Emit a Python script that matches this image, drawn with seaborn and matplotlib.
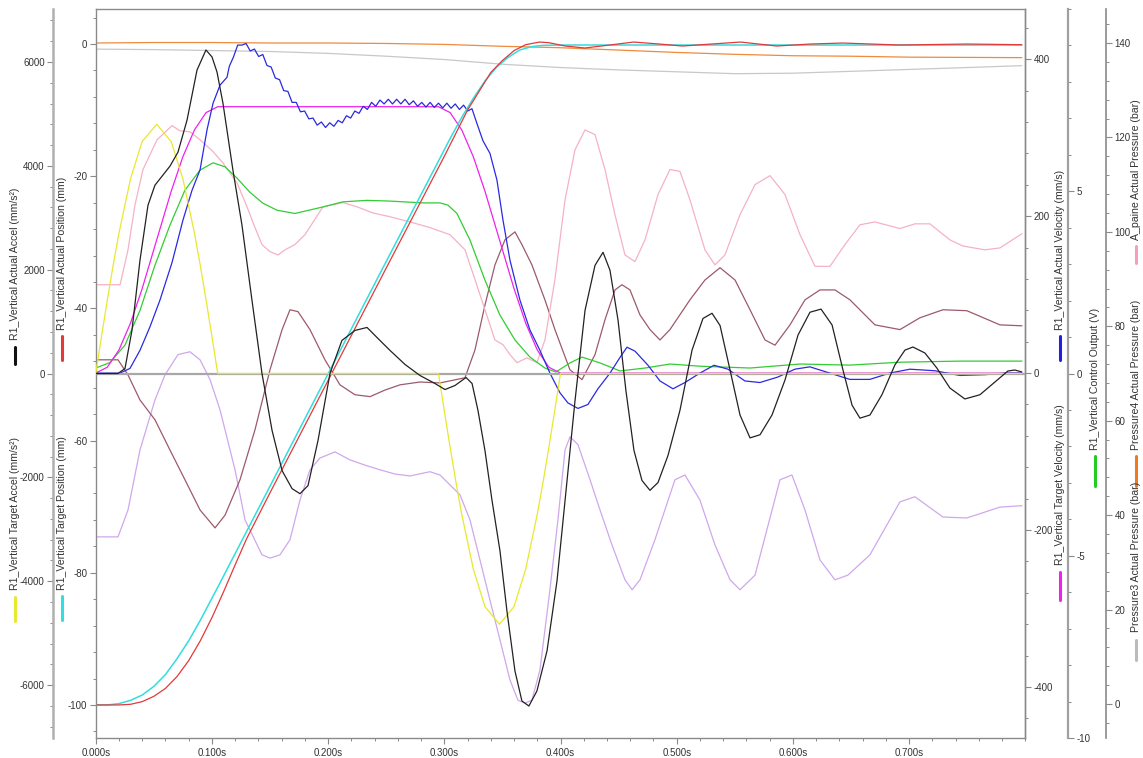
import numpy as np
import pandas as pd
import matplotlib
matplotlib.use("Agg")
import matplotlib.pyplot as plt
from matplotlib.lines import Line2D
from matplotlib.ticker import MultipleLocator, FixedLocator, FuncFormatter
import seaborn as sns

sns.set_theme(style="ticks")
plt.rcParams['font.family'] = ['Liberation Sans', 'DejaVu Sans']
plt.rcParams['axes.unicode_minus'] = False

# ---------------- data ----------------
# R1 vertical target acceleration (mm/s^2)
t_tacc = [0, .005, .010, .015, .020, .030, .040, .0525, .065, .075, .085, .090, .095, .100, .105,
          .295, .300, .305, .310, .315, .325, .335, .3475, .360, .370, .380, .385, .390, .395, .400, .797]
v_tacc = [0, 715, 1415, 2083, 2703, 3753, 4469, 4800, 4465, 3753, 2703, 2083, 1415, 715, 0,
          0, -720, -1420, -2090, -2710, -3770, -4490, -4830, -4490, -3770, -2710, -2090, -1420, -720, 0, 0]

# R1 vertical actual acceleration (mm/s^2)
t_aacc = [0, .0192, .0252, .0312, .0381, .0450, .0510, .0571, .0639, .0708, .0786, .0872, .0949, .1001,
          .1044, .1095, .1181, .1259, .1345, .1431, .1518, .1604, .1690, .1758, .1827, .1913, .2016, .2119,
          .2231, .2335, .2429, .2533, .2662, .2791, .2920, .3006, .3092, .3187, .3239, .3290, .3350, .3411,
          .3479, .3539, .3608, .3668, .3728, .3797, .3884, .3970, .4039, .4125, .4211, .4297, .4366, .4426,
          .4495, .4563, .4632, .4701, .4770, .4839, .4925, .5028, .5132, .5226, .5304, .5373, .5459, .5545,
          .5631, .5717, .5820, .5932, .6044, .6147, .6242, .6337, .6431, .6509, .6577, .6663, .6766, .6878,
          .6964, .7033, .7136, .7239, .7351, .7480, .7609, .7738, .7850, .7910, .7970]
v_aacc = [0, 0, 96, 829, 2180, 3241, 3627, 3800, 3993, 4263, 4880, 5845, 6231, 6096,
          5806, 5208, 3916, 2855, 1408, 0, -1100, -1871, -2218, -2315, -2160, -1292, 0, 637,
          829, 887, 675, 444, 174, -39, -193, -309, -231, -77, -193, -714, -1485, -2450,
          -3414, -4572, -5729, -6308, -6404, -6115, -5343, -3993, -2450, -521, 1215, 2083, 2334, 1987,
          1030, -330, -1480, -2060, -2250, -2100, -1580, -710, 450, 1060, 1160, 925, 67, -800,
          -1240, -1180, -800, -125, 740, 1180, 1240, 935, 67, -610, -860, -800, -410, 165,
          450, 510, 395, 105, -280, -490, -410, -165, 48, 67, 30]

# R1 vertical target position (mm)
t_tpos = [0, .01, .02, .03, .04, .05, .06, .07, .08, .09, .105, .15, .20, .25, .295,
          .305, .315, .325, .335, .345, .355, .365, .375, .385, .40, .797]
v_tpos = [-100, -100, -99.8, -99.3, -98.5, -97.2, -95.4, -93.0, -90.3, -87.2, -82.2, -66.9, -49.9, -32.9, -17.7,
          -14.3, -11.1, -8.2, -5.6, -3.5, -2.0, -0.9, -0.4, -0.2, -0.15, -0.15]

# R1 vertical actual position (mm)
t_apos = [0, .02, .03, .04, .05, .06, .07, .08, .09, .10, .11, .12, .13, .15, .20, .25, .30, .32, .34,
          .35, .36, .37, .382, .39, .404, .421, .44, .463, .485, .505, .53, .555, .586, .615, .643, .692, .75, .797]
v_apos = [-100, -100, -99.9, -99.5, -98.7, -97.5, -95.7, -93.3, -90.3, -86.8, -82.9, -78.8, -74.8, -67.9, -50.9,
          -33.9, -17.0, -10.0, -4.3, -2.5, -1.0, -0.1, 0.3, 0.2, -0.3, -0.6, -0.2, 0.3, 0.0, -0.3, 0.0, 0.3,
          -0.3, 0.0, 0.15, -0.15, 0.0, -0.1]

# R1 vertical target velocity (mm/s)
t_tvel = [0, .010, .020, .030, .040, .0525, .065, .075, .085, .095, .105, .295, .305, .315, .325, .335,
          .3475, .360, .370, .380, .390, .400, .797]
v_tvel = [0, 7.5, 29.5, 63.9, 107.7, 169.8, 231.8, 275.6, 310, 332, 339.5, 339.5, 332, 310, 275.6, 231.8,
          169.8, 107.7, 63.9, 29.5, 7.5, 0, 0]

# R1 vertical actual velocity (mm/s), including the fine ripple while moving
t_avel = [0, .021, .0295, .0381, .0467, .0553, .0657, .0751, .0829, .0898, .0958, .1010, .1070, .1130,
          .1150, .1186, .1222, .1258, .1294, .1330, .1366, .1402, .1438, .1474, .1510, .1546, .1582, .1618,
          .1654, .1690, .1726, .1762, .1798, .1834, .1870, .1906, .1942, .1978, .2014, .2050, .2086, .2122,
          .2158, .2194, .2230, .2266, .2302, .2338, .2374, .2410, .2446, .2482, .2518, .2554, .2590, .2626,
          .2662, .2698, .2734, .2770, .2806, .2842, .2878, .2914, .2950, .2986, .3022, .3058, .3094, .3130,
          .3166, .3202, .3238,
          .3281, .3333, .3393, .3453, .3505, .3565, .3651, .3737, .3823, .3909,
          .3995, .4064, .4150, .4236, .4322, .4426, .4512, .4572, .4641, .4753, .4856, .4968, .5071, .5200,
          .5321, .5441, .5587, .5716, .5871, .6017, .6146, .6318, .6490, .6662, .6834, .7007, .7222, .7437,
          .7652, .7825, .7970]
v_avel = [0, 0, 6, 29, 59, 93, 141, 195, 233, 259, 310, 344, 367, 377,
          391, 403, 418, 418, 420, 410.5, 413, 403.5, 406, 392, 390, 376, 374, 360,
          359, 345, 345, 333, 334, 324, 325, 316, 320, 313, 319, 314.5, 322, 319,
          328, 325, 334, 331, 340, 336, 345, 340, 348, 343, 349, 343, 349, 343,
          349, 342, 347, 340, 345, 339, 345, 338.5, 344, 338, 344, 337.5, 343, 336,
          341.5, 334, 337,
          318, 296, 280, 246, 195, 144, 93, 55, 29, 0,
          -25, -38, -45, -40, -20, 0, 20, 33, 28, 10, -10, -20, -12, 0,
          10, 5, -10, -12, -5, 5, 8, 0, -8, -8, 0, 5, 3, -3,
          -2, 0, 0]

# R1 vertical control output (V)
t_ctl = [0, .0123, .0252, .0381, .0510, .0639, .0768, .0898, .1010, .1113, .1216, .1328, .1440, .1560,
         .1714, .1956, .2128, .2334, .2533, .2817, .2963, .3031, .3109, .3221, .3350, .3479, .3608, .3737,
         .3866, .3961, .4081, .4185, .4340, .4512, .4727, .4943, .5201, .5631, .6061, .6491, .6922, .7438, .7971]
v_ctl = [0.15, 0.30, 0.78, 1.73, 2.97, 4.07, 5.03, 5.58, 5.78, 5.67, 5.36, 4.97, 4.67, 4.48,
         4.39, 4.57, 4.71, 4.75, 4.73, 4.68, 4.68, 4.62, 4.39, 3.66, 2.56, 1.60, 0.92, 0.45,
         0.15, 0.04, 0.29, 0.45, 0.29, 0.07, 0.15, 0.26, 0.20, 0.15, 0.26, 0.23, 0.31, 0.34, 0.34]

# A_paine actual pressure (bar)
t_pa = [0, .021, .0278, .0338, .0407, .0528, .0657, .0725, .0811, .0898, .1010, .1095, .1216, .1302,
        .1371, .1431, .1500, .1569, .1629, .1714, .1801, .1956, .2128, .2249, .2386, .2533, .2705, .2877,
        .3049, .3178, .3264, .3350, .3436, .3505, .3565, .3626, .3711, .3797, .3866, .3952, .4039, .4125,
        .4211, .4297, .4383, .4469, .4555, .4641, .4727, .4839, .4942, .5028, .5114, .5243, .5329, .5415,
        .5544, .5674, .5803, .5932, .6061, .6190, .6319, .6448, .6577, .6706, .6921, .7050, .7179, .7351,
        .7463, .7652, .7782, .7971]
v_pa = [88.8, 88.8, 96.2, 105.7, 113.2, 119.5, 122.5, 121.4, 121.2, 119.5, 117.0, 114.6, 110.4, 105.3,
        100.9, 97.3, 95.8, 95.1, 96.2, 97.3, 99.4, 105.3, 106.2, 105.3, 104.0, 103.2, 102.1, 100.9,
        99.4, 96.2, 89.9, 83.5, 77.1, 76.1, 74.0, 72.3, 73.3, 72.3, 77.1, 89.9, 106.8, 117.4,
        121.6, 120.6, 113.2, 103.6, 95.1, 93.7, 98.3, 107.9, 113.2, 112.8, 106.8, 96.2, 93.0, 95.1,
        103.6, 110.0, 111.9, 107.9, 99.4, 92.7, 92.7, 97.3, 101.5, 102.1, 100.7, 101.7, 101.7, 98.3,
        97.0, 96.2, 96.6, 99.6]

# Pressure4 actual pressure (bar)
t_p4 = [0, .05, .10, .15, .20, .25, .30, .35, .40, .45, .50, .55, .60, .65, .70, .797]
v_p4 = [140.0, 140.1, 140.1, 140.0, 140.0, 139.9, 139.7, 139.3, 139.0, 138.5, 138.0, 137.6, 137.3, 137.2, 137.0, 136.9]

# Pressure3 actual pressure (bar)
t_p3 = [0, .05, .10, .15, .20, .25, .30, .35, .40, .45, .50, .55, .60, .65, .70, .75, .797]
v_p3 = [138.7, 138.6, 138.4, 138.2, 137.8, 137.2, 136.5, 135.5, 134.8, 134.3, 133.9, 133.5, 133.6, 134.0, 134.4, 134.8, 135.2]

# Pressure channel 1 (bar)
t_p1 = [0, .0192, .0278, .0381, .0510, .0639, .0768, .0898, .1027, .1113, .1242, .1371, .1500, .1604,
        .1672, .1741, .1844, .1973, .2102, .2231, .2361, .2490, .2619, .2791, .2963, .3178, .3264, .3350,
        .3436, .3522, .3608, .3668, .3754, .3866, .3952, .4081, .4185, .4297, .4383, .4469, .4529, .4598,
        .4684, .4770, .4856, .4942, .5114, .5243, .5373, .5502, .5631, .5760, .5846, .5975, .6104, .6233,
        .6362, .6491, .6706, .6921, .7093, .7291, .7497, .7782, .7971]
v_p1 = [72.9, 72.9, 69.7, 64.4, 60.2, 53.8, 47.5, 41.1, 37.3, 40.0, 47.5, 58.1, 70.8, 79.3,
        83.5, 83.1, 79.3, 72.9, 67.6, 65.5, 65.1, 66.5, 67.6, 68.2, 68.0, 69.1, 75.0, 84.5,
        93.0, 98.3, 100.0, 97.3, 93.0, 85.6, 79.3, 70.8, 68.7, 74.0, 81.4, 87.7, 88.8, 87.7,
        82.4, 79.3, 77.1, 79.3, 85.6, 89.8, 92.4, 89.8, 83.5, 77.1, 76.0, 80.3, 85.6, 87.7,
        87.7, 85.6, 80.3, 79.3, 81.8, 83.5, 83.3, 80.3, 80.1]

# Pressure channel 2 (bar)
t_p2 = [0, .0192, .0278, .0381, .0510, .0596, .0708, .0811, .0898, .0984, .1070, .1199, .1285, .1431,
        .1500, .1586, .1672, .1758, .1844, .1930, .2059, .2188, .2317, .2447, .2576, .2705, .2877, .2963,
        .3049, .3135, .3221, .3307, .3393, .3479, .3565, .3634, .3694, .3754, .3823, .3909, .3978, .4039,
        .4082, .4151, .4254, .4340, .4443, .4555, .4616, .4684, .4813, .4985, .5071, .5200, .5329, .5459,
        .5545, .5674, .5889, .5992, .6104, .6233, .6362, .6474, .6663, .6921, .7050, .7291, .7497, .7782, .7971]
v_p2 = [35.4, 35.4, 41.1, 53.8, 64.4, 69.7, 74.0, 74.6, 72.9, 68.7, 62.3, 49.6, 39.0, 31.6,
        30.9, 31.6, 34.8, 43.2, 49.6, 52.1, 53.4, 51.7, 50.6, 49.6, 48.7, 48.3, 49.2, 48.5,
        46.4, 44.3, 39.0, 30.5, 22.0, 13.6, 5.1, 0.8, 0.2, 0.8, 7.2, 24.2, 39.0, 53.8,
        56.6, 54.9, 47.5, 41.1, 33.7, 26.3, 24.2, 26.3, 34.8, 47.5, 48.5, 43.2, 33.7, 26.3,
        24.2, 27.3, 47.5, 48.5, 41.1, 30.5, 26.3, 27.3, 31.6, 42.8, 43.9, 39.6, 39.4, 41.7, 42.0]

# axis tick labels
x_ticks = [0.0, 0.1, 0.2, 0.3, 0.4, 0.5, 0.6, 0.7]
acc_ticks = [-6000, -4000, -2000, 0, 2000, 4000, 6000]
pos_ticks = [-100, -80, -60, -40, -20, 0]
vel_ticks = [-400, -200, 0, 200, 400]
ctl_ticks = [-10, -5, 0, 5]
pr_ticks = [0, 20, 40, 60, 80, 100, 120, 140]

# ---------------- figure ----------------
W, H = 1143, 758
fig = plt.figure(figsize=(W / 100, H / 100), dpi=100, facecolor="white")
x0, x1, ytop, ybot = 95.7, 1025.3, 9, 738
ax_pos = fig.add_axes([x0 / W, 1 - ybot / H, (x1 - x0) / W, (ybot - ytop) / H])
ax_pr = ax_pos.twinx()
ax_ctl = ax_pos.twinx()
ax_vel = ax_pos.twinx()
ax_acc = ax_pos.twinx()

for i, a in enumerate([ax_pr, ax_ctl, ax_vel, ax_pos, ax_acc]):
    a.set_zorder(i + 1)
    a.patch.set_visible(False)

SPINE = "#8a8a8a"
TXT = "#333333"
FS = 7.0      # tick labels
CFS = 7.6     # channel captions

def prep(ax, side, pos=None, lw=1.0, color=SPINE):
    for s in ax.spines.values():
        s.set_visible(False)
    sp = ax.spines[side]
    sp.set_visible(True)
    sp.set_color(color)
    sp.set_linewidth(lw)
    if pos is not None:
        sp.set_position(("axes", pos))
    ax.yaxis.set_ticks_position(side)
    ax.yaxis.set_label_position(side)
    ax.tick_params(axis="y", which="major", direction="out", length=4, width=0.8,
                   color=SPINE, labelsize=FS, labelcolor=TXT, pad=2)
    ax.tick_params(axis="y", which="minor", direction="out", length=2.5, width=0.7, color=SPINE)

# host frame (position axis on the left edge)
for s in ax_pos.spines.values():
    s.set_visible(True)
    s.set_color(SPINE)
    s.set_linewidth(1.0)
ax_pos.yaxis.set_ticks_position("left")
ax_pos.tick_params(axis="y", which="major", direction="out", length=4, width=0.8,
                   color=SPINE, labelsize=FS, labelcolor=TXT, pad=2)
ax_pos.tick_params(axis="y", which="minor", direction="out", length=2.5, width=0.7, color=SPINE)
ax_pos.tick_params(axis="x", which="major", direction="out", length=4, width=0.8,
                   color=SPINE, labelsize=FS, labelcolor=TXT, pad=3, top=False)
ax_pos.tick_params(axis="x", which="minor", direction="out", length=2.5, width=0.7,
                   color=SPINE, top=False)

prep(ax_acc, "left", pos=(53 - x0) / (x1 - x0), lw=1.8, color="#b0b0b0")
prep(ax_vel, "right", lw=1.0)
prep(ax_ctl, "right", pos=(1068 - x0) / (x1 - x0), lw=1.6, color="#a0a0a0")
prep(ax_pr, "right", pos=(1106 - x0) / (x1 - x0), lw=1.2)

# scales
ax_pos.set_xlim(0, 0.8)
ax_pos.set_ylim(-105.0, 5.3)
ax_acc.set_ylim(-7020, 7020)
ax_vel.set_ylim(-465, 464)
ax_ctl.set_ylim(-10, 10)
ax_pr.set_ylim(-7.2, 147.2)

ax_pos.xaxis.set_major_locator(FixedLocator(x_ticks))
ax_pos.xaxis.set_minor_locator(MultipleLocator(0.02))
ax_pos.xaxis.set_major_formatter(FuncFormatter(lambda v, p: f"{v:.3f}s"))
ax_pos.yaxis.set_major_locator(FixedLocator(pos_ticks))
ax_pos.yaxis.set_minor_locator(MultipleLocator(4))
ax_acc.yaxis.set_major_locator(FixedLocator(acc_ticks))
ax_acc.yaxis.set_minor_locator(MultipleLocator(400))
ax_vel.yaxis.set_major_locator(FixedLocator(vel_ticks))
ax_vel.yaxis.set_minor_locator(MultipleLocator(40))
ax_ctl.yaxis.set_major_locator(FixedLocator(ctl_ticks))
ax_ctl.yaxis.set_minor_locator(MultipleLocator(1))
ax_pr.yaxis.set_major_locator(FixedLocator(pr_ticks))
ax_pr.yaxis.set_minor_locator(MultipleLocator(4))

LW = 0.9

def draw(ax, t, v, color, z=2, lw=LW):
    df = pd.DataFrame({"t": t, "v": v})
    sns.lineplot(data=df, x="t", y="v", ax=ax, color=color, linewidth=lw,
                 estimator=None, sort=False, legend=False, zorder=z)

# pressures
draw(ax_pr, t_p3, v_p3, "#c8c8c8")
draw(ax_pr, t_p4, v_p4, "#f08a3c")
draw(ax_pr, t_p2, v_p2, "#cfa8ec")
draw(ax_pr, t_p1, v_p1, "#9c5a6a")
draw(ax_pr, t_pa, v_pa, "#f5b2c4")
# control output
draw(ax_ctl, t_ctl, v_ctl, "#33cc33")
# velocities
draw(ax_vel, t_tvel, v_tvel, "#ee22ee")
draw(ax_vel, t_avel, v_avel, "#2a2ae0")
# positions
draw(ax_pos, t_tpos, v_tpos, "#33dddd", lw=1.1)
draw(ax_pos, t_apos, v_apos, "#e03a3a")
# accelerations
ax_acc.axhline(0, color="#a8a8a8", lw=1.6, zorder=1)
draw(ax_acc, t_tacc, v_tacc, "#e8e830")
draw(ax_acc, t_aacc, v_aacc, "#222222", z=3)

for a in [ax_pos, ax_acc, ax_vel, ax_ctl, ax_pr]:
    a.set_xlabel("")
    a.set_ylabel("")
ax_pos.set_xlim(0, 0.8)

# vertical channel captions with colour keys
def caption(xpx, ybottom_px, seg, text, color):
    fig.text(xpx / W, 1 - ybottom_px / H, text, rotation=90, ha="center", va="bottom",
             fontsize=CFS, color=TXT)
    fig.add_artist(Line2D([xpx / W, xpx / W], [1 - seg[0] / H, 1 - seg[1] / H],
                          color=color, lw=2.2, transform=fig.transFigure))

caption(15, 340, (347, 364), "R1_Vertical Actual Accel (mm/s²)", "#111111")
caption(15, 590, (597, 621), "R1_Vertical Target Accel (mm/s²)", "#e8e830")
caption(62, 330, (336, 360), "R1_Vertical Actual Position (mm)", "#e03a3a")
caption(62, 590, (596, 620), "R1_Vertical Target Position (mm)", "#33dddd")
caption(1060, 330, (336, 360), "R1_Vertical Actual Velocity (mm/s)", "#2020dd")
caption(1060, 565, (572, 600), "R1_Vertical Target Velocity (mm/s)", "#ee22ee")
caption(1095, 450, (456, 486), "R1_Vertical Control Output (V)", "#22cc22")
caption(1136, 240, (246, 263), "A_paine Actual Pressure (bar)", "#f5a0b8")
caption(1136, 450, (456, 486), "Pressure4 Actual Pressure (bar)", "#f07a20")
caption(1136, 632, (640, 660), "Pressure3 Actual Pressure (bar)", "#bbbbbb")

fig.savefig("out.png", dpi=100, facecolor="white")
